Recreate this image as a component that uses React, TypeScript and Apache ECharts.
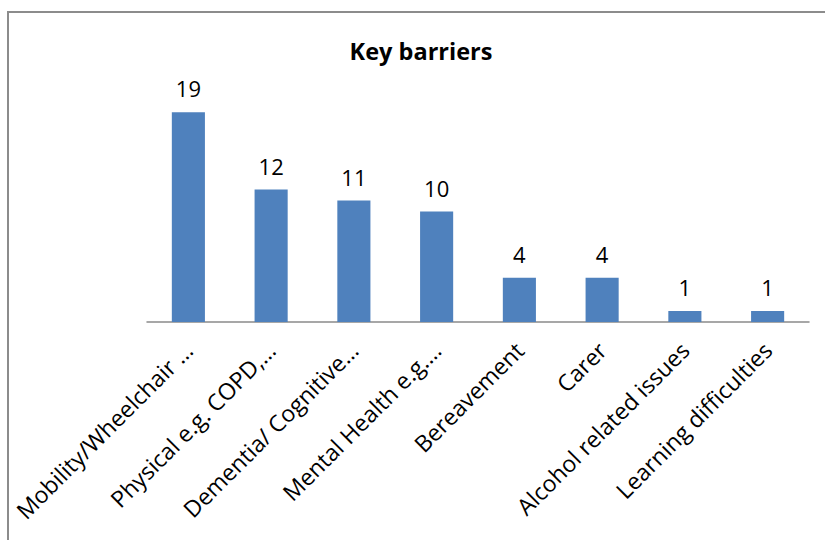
import React, { useEffect, useRef } from "react";
import * as echarts from "echarts";

const categories = [
  "Mobility/Wheelchair …",
  "Physical e.g. COPD,…",
  "Dementia/ Cognitive…",
  "Mental Health e.g.…",
  "Bereavement",
  "Carer",
  "Alcohol related issues",
  "Learning difficulties",
];
const counts = [19, 12, 11, 10, 4, 4, 1, 1];

const FONT = "'Open Sans', 'Noto Sans', sans-serif";

export default function App() {
  const ref = useRef<HTMLDivElement>(null);

  useEffect(() => {
    if (!ref.current) return;
    const chart = echarts.init(ref.current, null, { renderer: "svg" });
    chart.setOption({
      animation: false,
      backgroundColor: "#ffffff",
      title: {
        text: "Key barriers",
        left: 416,
        top: 34,
        textAlign: "center",
        textStyle: { fontFamily: FONT, fontWeight: "bold", fontSize: 23.5, color: "#000000" },
      },
      graphic: [
        {
          type: "rect",
          shape: { x: 8, y: 12, width: 840, height: 560 },
          style: { fill: "none", stroke: "#8c8c8c", lineWidth: 2 },
          silent: true,
        },
      ],
      grid: { left: 147, right: 16, top: 101.2, bottom: 218 },
      xAxis: {
        type: "category",
        data: categories,
        axisLine: { lineStyle: { color: "#8a8a8a", width: 1.5 } },
        axisTick: { show: false },
        axisLabel: {
          rotate: 45,
          interval: 0,
          margin: 24,
          fontFamily: FONT,
          fontSize: 23,
          color: "#000000",
        },
      },
      yAxis: {
        type: "value",
        min: 0,
        max: 20,
        show: false,
        splitLine: { show: false },
      },
      series: [
        {
          type: "bar",
          data: counts,
          barWidth: "40%",
          itemStyle: { color: "#4f81bd" },
          label: {
            show: true,
            position: "top",
            distance: 13,
            fontFamily: FONT,
            fontSize: 22,
            color: "#000000",
          },
        },
      ],
    });
    return () => chart.dispose();
  }, []);

  return (
    <div
      ref={ref}
      style={{ position: "absolute", left: 0, top: 0, width: 825, height: 540 }}
    />
  );
}
